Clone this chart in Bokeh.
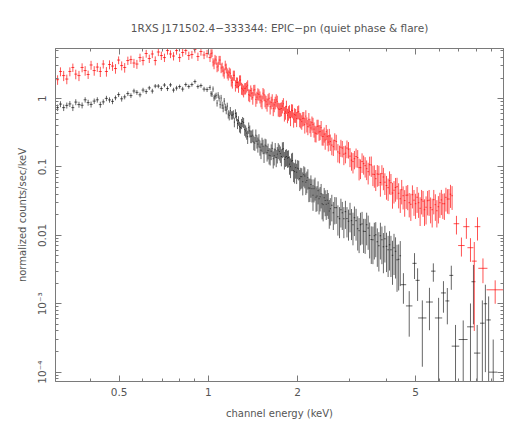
import numpy as np
from bokeh.plotting import figure
from bokeh.models import LogAxis, FixedTicker, CustomJSTickFormatter, Title
from bokeh.embed import file_html
from bokeh.resources import INLINE

TITLE = "1RXS J171502.4\u2212333344: EPIC\u2212pn (quiet phase & flare)"
X_LABEL = "channel energy (keV)"
Y_LABEL = "normalized counts/sec/keV"
X_TICKS = [0.5, 1, 2, 5]
Y_TICKS = [1e-4, 1e-3, 0.01, 0.1, 1]

# ---- energy grid of the densely binned part (keV) ----
energy_A = [0.310, 0.317, 0.325, 0.333, 0.341, 0.349, 0.357, 0.366, 0.375, 0.384,
            0.393, 0.402, 0.412, 0.422, 0.432, 0.442, 0.453, 0.464, 0.475, 0.486,
            0.498, 0.510, 0.522, 0.535, 0.548, 0.561, 0.574, 0.588, 0.602, 0.617,
            0.632, 0.647, 0.662, 0.678, 0.694, 0.711, 0.728, 0.745, 0.763, 0.781,
            0.800, 0.819, 0.839, 0.859, 0.880, 0.901, 0.922, 0.944, 0.967, 0.990]
energy_B = [1.013, 1.029, 1.045, 1.062, 1.079, 1.096, 1.113, 1.131, 1.149, 1.167,
            1.186, 1.205, 1.224, 1.244, 1.264, 1.284, 1.305, 1.326, 1.347, 1.368,
            1.390, 1.412, 1.435, 1.458, 1.481, 1.505, 1.529, 1.553, 1.578, 1.603,
            1.629, 1.655, 1.681, 1.708, 1.735, 1.763, 1.791, 1.820, 1.849, 1.878,
            1.908, 1.939, 1.970, 2.001, 2.033, 2.066, 2.099, 2.132, 2.166, 2.201,
            2.236, 2.272, 2.308, 2.345, 2.382, 2.420, 2.459, 2.498, 2.538, 2.578]
energy_B2 = [1.021, 1.037, 1.053, 1.070, 1.087, 1.104, 1.122, 1.140, 1.158, 1.176,
             1.195, 1.214, 1.234, 1.254, 1.274, 1.294, 1.315, 1.336, 1.357, 1.379,
             1.401, 1.423, 1.446, 1.469, 1.493, 1.517, 1.541, 1.565, 1.590, 1.616,
             1.642, 1.668, 1.694, 1.721, 1.749, 1.777, 1.805, 1.834, 1.863, 1.893,
             1.923, 1.954, 1.985, 2.017, 2.049, 2.082, 2.115, 2.149, 2.183, 2.218,
             2.254, 2.290, 2.326, 2.363, 2.401, 2.439, 2.478, 2.518, 2.558, 2.609]
energy_C = [2.64, 2.70, 2.77, 2.83, 2.90, 2.97, 3.04, 3.11, 3.19, 3.26,
            3.34, 3.42, 3.50, 3.59, 3.67, 3.76, 3.85, 3.94, 4.04, 4.13,
            4.23, 4.33, 4.44, 4.54, 4.65, 4.76, 4.88, 5.00, 5.12, 5.24,
            5.36, 5.49, 5.62, 5.76, 5.90, 6.04, 6.18, 6.33, 6.48, 6.64]
energy_C2 = [2.67, 2.735, 2.80, 2.865, 2.935, 3.005, 3.075, 3.15, 3.225, 3.30,
             3.38, 3.46, 3.545, 3.63, 3.715, 3.805, 3.895, 3.99, 4.085, 4.18,
             4.28, 4.385, 4.49, 4.595, 4.705, 4.82, 4.94, 5.06, 5.18, 5.30,
             5.425, 5.555, 5.69, 5.83, 5.97, 6.11, 6.255, 6.405, 6.56]

# ---- flare (red) ----
flare_A = [1.89, 2.49, 2.17, 1.93, 2.49, 2.85, 2.28, 2.17, 2.85, 2.57,
           2.25, 3.10, 2.57, 2.89, 2.49, 3.20, 2.49, 3.15, 2.99, 2.75,
           3.66, 3.04, 2.85, 3.60, 3.72, 3.31, 3.20, 3.98, 3.60, 4.56,
           3.85, 4.49, 3.60, 4.80, 4.26, 3.98, 5.04, 4.49, 4.19, 5.04,
           3.98, 4.72, 5.04, 4.26, 4.41, 5.22, 4.12, 4.88, 4.34, 4.56]
flare_B = [3.98, 4.64, 3.20, 3.66, 2.99, 3.66, 2.89, 2.36, 2.80, 2.21,
           2.35, 1.73, 2.19, 1.73, 1.50, 1.87, 1.38, 1.41, 1.49, 1.14,
           1.31, 1.03, 1.35, 1.05, 1.15, 0.944, 1.20, 0.944, 0.825, 1.01,
           0.880, 0.719, 0.880, 0.910, 0.695, 0.716, 0.839, 0.637, 0.573, 0.656,
           0.678, 0.501, 0.573, 0.635, 0.501, 0.460, 0.518, 0.554, 0.389, 0.409,
           0.445, 0.358, 0.308, 0.396, 0.329, 0.278, 0.302, 0.329, 0.231, 0.235]
flare_B2 = [4.56, 3.42, 3.79, 2.89, 3.66, 2.80, 2.53, 3.09, 2.36, 2.43,
            1.85, 2.19, 1.56, 1.72, 1.85, 1.42, 1.30, 1.42, 1.57, 1.12,
            1.20, 1.33, 0.973, 1.18, 1.06, 0.898, 1.14, 0.898, 0.960, 0.759,
            0.957, 0.809, 0.957, 0.707, 0.704, 0.777, 0.607, 0.764, 0.624, 0.527,
            0.667, 0.583, 0.510, 0.645, 0.488, 0.513, 0.416, 0.426, 0.496, 0.372,
            0.419, 0.315, 0.392, 0.325, 0.376, 0.280, 0.248, 0.280, 0.284, 0.209]
flare_C = [0.198, 0.235, 0.159, 0.189, 0.159, 0.182, 0.126, 0.132, 0.137, 0.0977,
           0.112, 0.0944, 0.108, 0.0784, 0.0674, 0.0784, 0.0798, 0.0599, 0.0498, 0.0589,
           0.0457, 0.0515, 0.0343, 0.0380, 0.0387, 0.0300, 0.0393, 0.0290, 0.0300, 0.0332,
           0.0237, 0.0321, 0.0254, 0.0332, 0.0229, 0.0300, 0.0290, 0.0360, 0.0340, 0.0380]
flare_C2 = [0.243, 0.166, 0.195, 0.154, 0.189, 0.144, 0.120, 0.142, 0.0977, 0.120,
            0.1045, 0.0854, 0.107, 0.0777, 0.0790, 0.0593, 0.0714, 0.0536, 0.0630, 0.0416,
            0.0501, 0.0413, 0.0465, 0.0323, 0.0389, 0.0285, 0.0327, 0.0361, 0.0249, 0.0316,
            0.0258, 0.0327, 0.0237, 0.0281, 0.0262, 0.0330, 0.0290, 0.0340, 0.0400]
flare_relerr_A = [.16, .15, .17, .16, .15, .14, .16, .17, .15, .16, .14, .15, .16, .15, .17, .14, .16,
                  .15, .15, .16, .13, .15, .16, .14, .14, .15, .15, .14, .15, .13, .14, .13, .15, .13,
                  .14, .14, .13, .13, .14, .13, .14, .13, .13, .14, .13, .12, .14, .13, .13, .13]
flare_relerr_B = [.14, .13, .16, .15, .16, .15, .16, .17, .16, .17, .17, .19, .17, .18, .19, .17, .19,
                  .19, .18, .20, .19, .21, .18, .20, .19, .21, .19, .21, .22, .20, .21, .23, .21, .21,
                  .23, .23, .21, .23, .24, .22, .22, .25, .23, .22, .24, .24, .23, .22, .25, .24, .23,
                  .25, .26, .24, .25, .26, .25, .25, .27, .27]
flare_relerr_B2 = [.15, .14, .15, .16, .15, .16, .17, .16, .17, .17, .19, .17, .19, .18, .18, .20, .20,
                   .19, .18, .21, .20, .19, .22, .20, .20, .22, .20, .22, .21, .23, .21, .22, .21, .23,
                   .23, .22, .24, .22, .24, .25, .23, .24, .25, .23, .25, .24, .26, .25, .24, .26, .25,
                   .27, .25, .26, .25, .27, .28, .27, .27, .29]
flare_relerr_C = [.27, .26, .29, .27, .29, .27, .30, .30, .29, .32, .31, .32, .31, .33, .34, .33, .33,
                  .35, .36, .34, .36, .35, .38, .37, .37, .39, .37, .40, .40, .39, .42, .39, .41, .39,
                  .43, .40, .40, .38, .40, .38]
flare_relerr_C2 = [.28, .30, .28, .31, .29, .31, .33, .31, .35, .32, .33, .35, .33, .36, .35, .38, .36,
                   .38, .37, .41, .38, .40, .39, .42, .40, .43, .41, .41, .45, .41, .44, .41, .45, .42,
                   .43, .40, .42, .39, .37]
# sparse high-energy flare bins
flare_hi_energy = [6.87, 7.14, 7.42, 7.66, 7.89, 8.09, 8.44, 9.28]
flare_hi_halfwidth = [0.15, 0.18, 0.18, 0.18, 0.15, 0.18, 0.30, 0.60]
flare_hi_value = [0.0148, 0.0071, 0.0134, 0.0066, 0.0042, 0.0134, 0.0033, 0.0016]
flare_hi_err = [0.0045, 0.0022, 0.0045, 0.0025, 0.0038, 0.0050, 0.0013, 0.0006]

# ---- quiet phase (black) ----
quiet_A = [0.738, 0.831, 0.738, 0.795, 0.836, 0.738, 0.889, 0.817, 0.798, 0.960,
           0.874, 0.822, 0.919, 0.960, 0.817, 0.895, 1.007, 0.957, 0.910, 1.027,
           1.144, 0.993, 1.059, 1.184, 1.106, 1.292, 1.233, 1.137, 1.332, 1.266,
           1.434, 1.288, 1.524, 1.524, 1.401, 1.577, 1.401, 1.587, 1.332, 1.425,
           1.498, 1.377, 1.603, 1.498, 1.603, 1.774, 1.498, 1.550, 1.377, 1.355]
quiet_B = [1.45, 1.16, 1.02, 1.11, 1.13, 0.817, 0.803, 0.919, 0.678, 0.593,
           0.667, 0.573, 0.453, 0.549, 0.476, 0.376, 0.460, 0.352, 0.313, 0.376,
           0.282, 0.292, 0.223, 0.238, 0.247, 0.176, 0.202, 0.209, 0.162, 0.149,
           0.170, 0.132, 0.179, 0.154, 0.168, 0.142, 0.185, 0.139, 0.135, 0.110,
           0.122, 0.0883, 0.0977, 0.0960, 0.0674, 0.0721, 0.0771, 0.0599, 0.0697, 0.0490,
           0.0481, 0.0481, 0.0361, 0.0450, 0.0367, 0.0290, 0.0355, 0.0285, 0.0295, 0.0245]
quiet_B2 = [1.18, 1.38, 1.07, 0.859, 1.01, 1.02, 0.726, 0.751, 0.777, 0.564,
            0.573, 0.593, 0.607, 0.431, 0.389, 0.431, 0.445, 0.337, 0.278, 0.337,
            0.282, 0.231, 0.292, 0.216, 0.195, 0.216, 0.159, 0.203, 0.174, 0.146,
            0.187, 0.146, 0.138, 0.177, 0.157, 0.182, 0.129, 0.142, 0.137, 0.101,
            0.124, 0.0854, 0.0839, 0.0935, 0.0721, 0.0609, 0.0738, 0.0634, 0.0493, 0.0554,
            0.0387, 0.0510, 0.0376, 0.0343, 0.0406, 0.0281, 0.0323, 0.0327, 0.0227, 0.0276]
quiet_C = [0.0214, 0.0254, 0.0175, 0.0214, 0.0222, 0.0161, 0.0164, 0.0181, 0.0125, 0.0143,
           0.0115, 0.0143, 0.0100, 0.00862, 0.0102, 0.00705, 0.00862, 0.00891, 0.00615, 0.00615,
           0.00658, 0.00439, 0.00503]
quiet_C2 = [0.0254, 0.0187, 0.0237, 0.0175, 0.0176, 0.0205, 0.0143, 0.0164, 0.0117, 0.0147,
            0.0114, 0.0128, 0.00868, 0.00987, 0.00806, 0.00987, 0.00681, 0.00692, 0.00729, 0.00511,
            0.00585, 0.00447]
quiet_relerr_A = [.11, .10, .11, .10, .10, .11, .10, .10, .10, .09, .10, .10, .09, .09, .10, .09, .09,
                  .09, .09, .08, .08, .09, .08, .08, .08, .08, .08, .08, .08, .08, .07, .08, .07, .07,
                  .08, .07, .08, .07, .08, .08, .07, .08, .07, .07, .07, .07, .07, .07, .08, .08]
quiet_relerr_B = [.08, .09, .10, .10, .10, .12, .12, .11, .13, .14, .13, .14, .16, .15, .16, .18, .17,
                  .19, .20, .19, .21, .21, .23, .22, .22, .26, .24, .24, .26, .27, .26, .28, .25, .27,
                  .26, .28, .25, .28, .28, .30, .29, .32, .31, .31, .34, .33, .33, .35, .33, .37, .37,
                  .37, .39, .37, .39, .41, .39, .41, .41, .43]
quiet_relerr_B2 = [.09, .09, .10, .11, .10, .11, .13, .12, .12, .15, .14, .14, .15, .17, .18, .17, .17,
                   .20, .22, .20, .21, .24, .21, .25, .25, .24, .28, .25, .26, .28, .25, .28, .28, .26,
                   .27, .26, .29, .28, .28, .32, .30, .33, .33, .32, .35, .37, .34, .35, .38, .36, .41,
                   .37, .40, .41, .39, .43, .41, .41, .45, .42]
quiet_relerr_C = [.44, .42, .48, .44, .44, .48, .48, .46, .52, .50, .52, .50, .54, .56, .53, .58, .56,
                  .55, .60, .60, .60, .66, .64]
quiet_relerr_C2 = [.43, .47, .45, .48, .47, .46, .50, .49, .53, .50, .53, .52, .56, .55, .57, .55, .59,
                   .58, .58, .63, .60, .65]
# sparse high-energy quiet bins
quiet_hi_energy = [4.55, 4.76, 4.96, 5.08, 5.27, 5.57, 5.74, 5.98, 6.21, 6.40,
                   6.60, 6.82, 7.24, 7.66, 7.84, 8.07, 8.40, 8.60, 8.82, 9.14]
quiet_hi_halfwidth = [0.10, 0.12, 0.08, 0.08, 0.17, 0.15, 0.10, 0.17, 0.12, 0.10,
                      0.10, 0.20, 0.25, 0.20, 0.12, 0.20, 0.15, 0.12, 0.15, 0.30]
quiet_hi_value = [0.0019, 0.00093, 0.0039, 0.0022, 0.00062, 0.00106, 0.0030, 0.00062, 0.00144, 0.0011,
                  0.0026, 0.00024, 0.0003, 0.00046, 0.0021, 0.00019, 0.00052, 0.0010, 0.00058, 0.0001]
quiet_hi_err = [0.0009, 0.0006, 0.0016, 0.0011, 0.0005, 0.00065, 0.0009, 0.0006, 0.0007, 0.0006,
                0.0010, 0.00025, 0.00027, 0.00055, 0.0016, 0.0003, 0.0006, 0.0009, 0.0007, 0.0002]


def bin_edges(e):
    mid = np.sqrt(e[:-1] * e[1:])
    lo = np.concatenate([[e[0] ** 2 / mid[0]], mid])
    hi = np.concatenate([mid, [e[-1] ** 2 / mid[-1]]])
    return lo, hi


def build(e_dense, v_dense, rel, e_hi, hw_hi, v_hi, err_hi):
    e_dense = np.asarray(e_dense, float)
    order = np.argsort(e_dense)
    e_dense = e_dense[order]
    v_dense = np.asarray(v_dense, float)[order]
    rel = np.asarray(rel, float)[order]
    lo, hi = bin_edges(e_dense)
    err = v_dense * rel
    e_hi = np.asarray(e_hi, float)
    hw = np.asarray(hw_hi, float)
    e = np.concatenate([e_dense, e_hi])
    v = np.concatenate([v_dense, np.asarray(v_hi, float)])
    er = np.concatenate([err, np.asarray(err_hi, float)])
    x0 = np.concatenate([lo, e_hi - hw])
    x1 = np.concatenate([hi, e_hi + hw])
    ylo = np.clip(v - er, 1e-7, None)
    yhi = v + er
    return e, v, x0, x1, ylo, yhi


flare = build(energy_A + energy_B + energy_B2 + energy_C + energy_C2,
              flare_A + flare_B + flare_B2 + flare_C + flare_C2,
              flare_relerr_A + flare_relerr_B + flare_relerr_B2 + flare_relerr_C + flare_relerr_C2,
              flare_hi_energy, flare_hi_halfwidth, flare_hi_value, flare_hi_err)
quiet = build(energy_A + energy_B + energy_B2 + energy_C[:len(quiet_C)] + energy_C2[:len(quiet_C2)],
              quiet_A + quiet_B + quiet_B2 + quiet_C + quiet_C2,
              quiet_relerr_A + quiet_relerr_B + quiet_relerr_B2 + quiet_relerr_C + quiet_relerr_C2,
              quiet_hi_energy, quiet_hi_halfwidth, quiet_hi_value, quiet_hi_err)

AX = "#7a7a7a"
TXT = "#555555"
FONT = "DejaVu Sans"

p = figure(width=518, height=422, x_axis_type="log", y_axis_type="log",
           x_range=(0.305, 9.9), y_range=(7.3e-5, 5.4),
           output_backend="svg", toolbar_location=None,
           min_border_left=55, min_border_right=15, min_border_top=48, min_border_bottom=41)
p.title = None
p.xgrid.visible = False
p.ygrid.visible = False
p.outline_line_color = AX
p.background_fill_color = "white"
p.border_fill_color = "white"

for d, col, a in ((quiet, "#000000", 0.6), (flare, "#ff0000", 0.68)):
    e, v, x0, x1, ylo, yhi = d
    p.segment(x0=x0, x1=x1, y0=v, y1=v, line_color=col, line_alpha=a, line_width=1)
    p.segment(x0=e, x1=e, y0=ylo, y1=yhi, line_color=col, line_alpha=a, line_width=1)

x_minor = [0.3, 0.4, 0.6, 0.7, 0.8, 0.9, 3, 4, 6, 7, 8, 9]
y_minor = [k * 10.0 ** d for d in range(-5, 1) for k in range(2, 10)]

xfmt = CustomJSTickFormatter(code="return String(Number(tick.toPrecision(2)));")
yfmt = CustomJSTickFormatter(code="""
const e = Math.round(Math.log10(tick));
if (e >= -2) { return String(Number(tick.toPrecision(1))); }
const sup = {"3": "\\u00b3", "4": "\\u2074", "5": "\\u2075"};
return "10\\u207b" + sup[String(-e)];
""")


def style(ax, labels=True):
    ax.axis_line_color = AX
    ax.major_tick_line_color = AX
    ax.minor_tick_line_color = AX
    ax.major_tick_in = 6
    ax.major_tick_out = 0
    ax.minor_tick_in = 3
    ax.minor_tick_out = 0
    ax.major_label_text_font = FONT
    ax.axis_label_text_font = FONT
    ax.axis_label_text_color = TXT
    ax.axis_label_text_font_style = "normal"
    ax.axis_label_text_font_size = "10px"
    if labels:
        ax.major_label_text_font_size = "10.5px"
        ax.major_label_text_color = TXT
    else:
        ax.major_label_text_font_size = "1px"
        ax.major_label_text_color = None
        ax.major_label_standoff = 0


xa = p.xaxis[0]
xa.ticker = FixedTicker(ticks=X_TICKS, minor_ticks=x_minor)
xa.formatter = xfmt
xa.axis_label = X_LABEL
style(xa)
xa.major_label_standoff = 6
xa.axis_label_standoff = 9

ya = p.yaxis[0]
ya.ticker = FixedTicker(ticks=Y_TICKS, minor_ticks=y_minor)
ya.formatter = yfmt
ya.axis_label = Y_LABEL
style(ya)
ya.major_label_orientation = "vertical"
ya.major_label_standoff = 7
ya.axis_label_standoff = 6

top = LogAxis(ticker=FixedTicker(ticks=X_TICKS, minor_ticks=x_minor), formatter=xfmt)
style(top, labels=False)
p.add_layout(top, "above")
right = LogAxis(ticker=FixedTicker(ticks=Y_TICKS, minor_ticks=y_minor), formatter=yfmt)
style(right, labels=False)
p.add_layout(right, "right")

title = Title(text=TITLE, align="center", text_font=FONT, text_font_size="10.5px",
              text_font_style="normal", text_color=TXT)
if "padding" in title.properties():
    title.padding = 10
p.add_layout(title, "above")

open("out.html", "w").write(file_html(p, INLINE))
